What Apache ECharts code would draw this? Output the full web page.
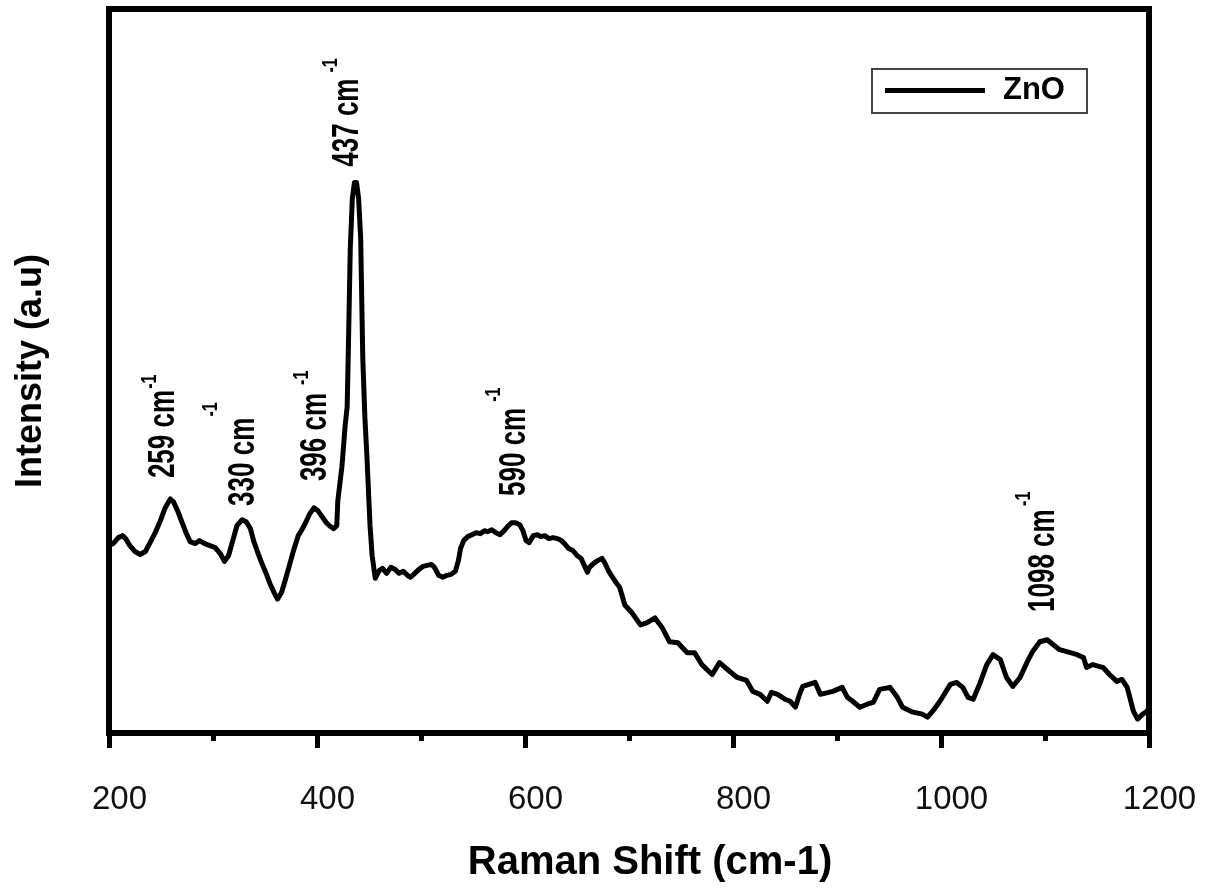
<!DOCTYPE html>
<html>
<head>
<meta charset="utf-8">
<script src="https://cdn.jsdelivr.net/npm/echarts@6/dist/echarts.min.js"></script>
<style>
html,body{margin:0;padding:0;background:#fff;}
#chart{width:1208px;height:888px;}
</style>
</head>
<body>
<div id="chart"></div>
<script>
// Raman shift (cm-1)
const shift = [200,204,209,213,216,220,225,230,235,239,244,249,254,259,262,266,270,274,278,283,287,292,297,302,307,311,315,319,323,328,332,336,339,343,347,351,355,359,362,366,370,374,378,382,386,389,393,397,401,405,409,412,416,419,420,424,427,429,430,432,434,436,438,440,442,443,444,446,448,451,453,456,460,463,467,471,475,479,483,487,490,494,498,502,506,510,513,517,521,525,529,533,536,538,541,545,549,553,557,561,564,568,572,576,580,584,587,591,595,598,601,604,608,612,615,619,623,627,631,635,638,642,646,650,654,657,660,662,666,670,674,677,680,683,686,688,691,696,703,711,717,725,732,739,747,756,763,770,780,787,797,804,813,819,826,833,837,843,850,855,860,864,867,879,884,896,905,910,915,922,929,935,941,951,958,963,973,982,987,992,999,1009,1015,1021,1026,1031,1037,1044,1050,1057,1063,1069,1076,1083,1088,1095,1102,1108,1114,1121,1131,1137,1140,1146,1156,1162,1169,1174,1179,1185,1189,1194,1198,1200];
// Intensity (a.u.)
const intensity = [189,191,197,199,196,189,183,180,183,191,201,213,227,236,233,224,213,202,193,191,194,191,189,187,181,173,179,194,209,215,213,206,194,182,171,161,150,141,135,142,156,171,186,199,206,212,221,227,224,218,212,209,206,209,234,269,309,329,379,489,539,555,555,539,499,439,379,319,279,209,179,156,164,166,161,167,165,161,163,159,157,161,165,168,169,170,167,159,157,159,160,163,174,186,194,198,200,202,201,204,203,205,202,200,204,209,212,212,210,204,194,192,199,200,198,199,196,197,196,194,191,186,184,179,176,169,162,167,171,174,176,171,164,159,154,151,147,129,121,109,111,116,106,92,91,81,81,69,59,71,62,56,53,42,39,32,41,39,34,32,26,39,47,51,39,42,46,36,32,26,29,31,44,46,36,26,21,19,16,22,32,49,51,46,36,34,49,69,79,74,56,47,56,72,82,92,94,89,84,82,79,76,66,69,66,59,52,54,46,22,14,19,22,25];

const xTicks = [200,400,600,800,1000,1200];

// peak annotations: text, anchor (centre x, start y) and superscript anchor
const annoText = ['259 cm','330 cm','396 cm','437 cm','590 cm','1098 cm'];
const annoX = [253,330,399,430,590,1099];
const annoY = [257,229,254,571,239,122];
const supText = ['-1','-1','-1','-1','-1','-1'];
const supX = [239,298,385,413,570,1080];
const supY = [347,319,351,666,334,229];

const chart = echarts.init(document.getElementById('chart'), null, {renderer:'canvas'});
const FONT = '"Liberation Sans", Arial, sans-serif';
const option = {
  animation:false,
  backgroundColor:'#fff',
  grid:{left:109,right:59,top:9,bottom:149,show:true,borderColor:'#000',borderWidth:6},
  legend:{
    data:['ZnO'], left:872, top:69, orient:'horizontal',
    icon:'rect', itemWidth:100, itemHeight:5,
    padding:[6,22,7,13], borderColor:'#444', borderWidth:2,
    textStyle:{fontFamily:FONT,fontWeight:'bold',fontSize:31,color:'#000',padding:[0,0,0,13]}
  },
  xAxis:{
    type:'value', min:200, max:1200, interval:200,
    name:'Raman Shift (cm-1)', nameLocation:'middle', nameGap:110,
    nameTextStyle:{fontFamily:FONT,fontWeight:'bold',fontSize:40,color:'#000',padding:[0,0,0,42]},
    axisLine:{show:true,lineStyle:{color:'#000',width:6}},
    axisTick:{show:true,length:15,lineStyle:{color:'#000',width:5}},
    minorTick:{show:true,splitNumber:2,length:8,lineStyle:{color:'#000',width:5}},
    axisLabel:{fontFamily:FONT,fontSize:33,color:'#111',margin:50,padding:[0,0,0,21],
      formatter:v=>xTicks.includes(v)?String(v):''},
    splitLine:{show:false}
  },
  yAxis:{
    type:'value', min:0, max:730,
    name:'Intensity (a.u)', nameLocation:'middle', nameGap:60,
    nameTextStyle:{fontFamily:FONT,fontWeight:'bold',fontSize:36,color:'#000'},
    axisLine:{show:true,lineStyle:{color:'#000',width:6}},
    axisTick:{show:false}, axisLabel:{show:false}, splitLine:{show:false}
  },
  series:[{
    name:'ZnO', type:'line', symbol:'none', showSymbol:false,
    data: shift.map((x,i)=>[x,intensity[i]]),
    lineStyle:{color:'#000',width:5,join:'round'}, itemStyle:{color:'#000'}
  }]
};
chart.setOption(option);

const graphics = [];
annoText.forEach((t,i)=>{
  const p = chart.convertToPixel({gridIndex:0},[annoX[i],annoY[i]]);
  graphics.push({type:'text', x:p[0], y:p[1], rotation:Math.PI/2, scaleY:1.4, z:10,
    style:{text:t, font:'bold 26px '+FONT, fill:'#000', align:'left', verticalAlign:'middle'}});
  const q = chart.convertToPixel({gridIndex:0},[supX[i],supY[i]]);
  graphics.push({type:'text', x:q[0], y:q[1], rotation:Math.PI/2, scaleY:1.4, z:10,
    style:{text:supText[i], font:'bold 16px '+FONT, fill:'#000', align:'left', verticalAlign:'middle'}});
});
chart.setOption({graphic:graphics});
</script>
</body>
</html>
